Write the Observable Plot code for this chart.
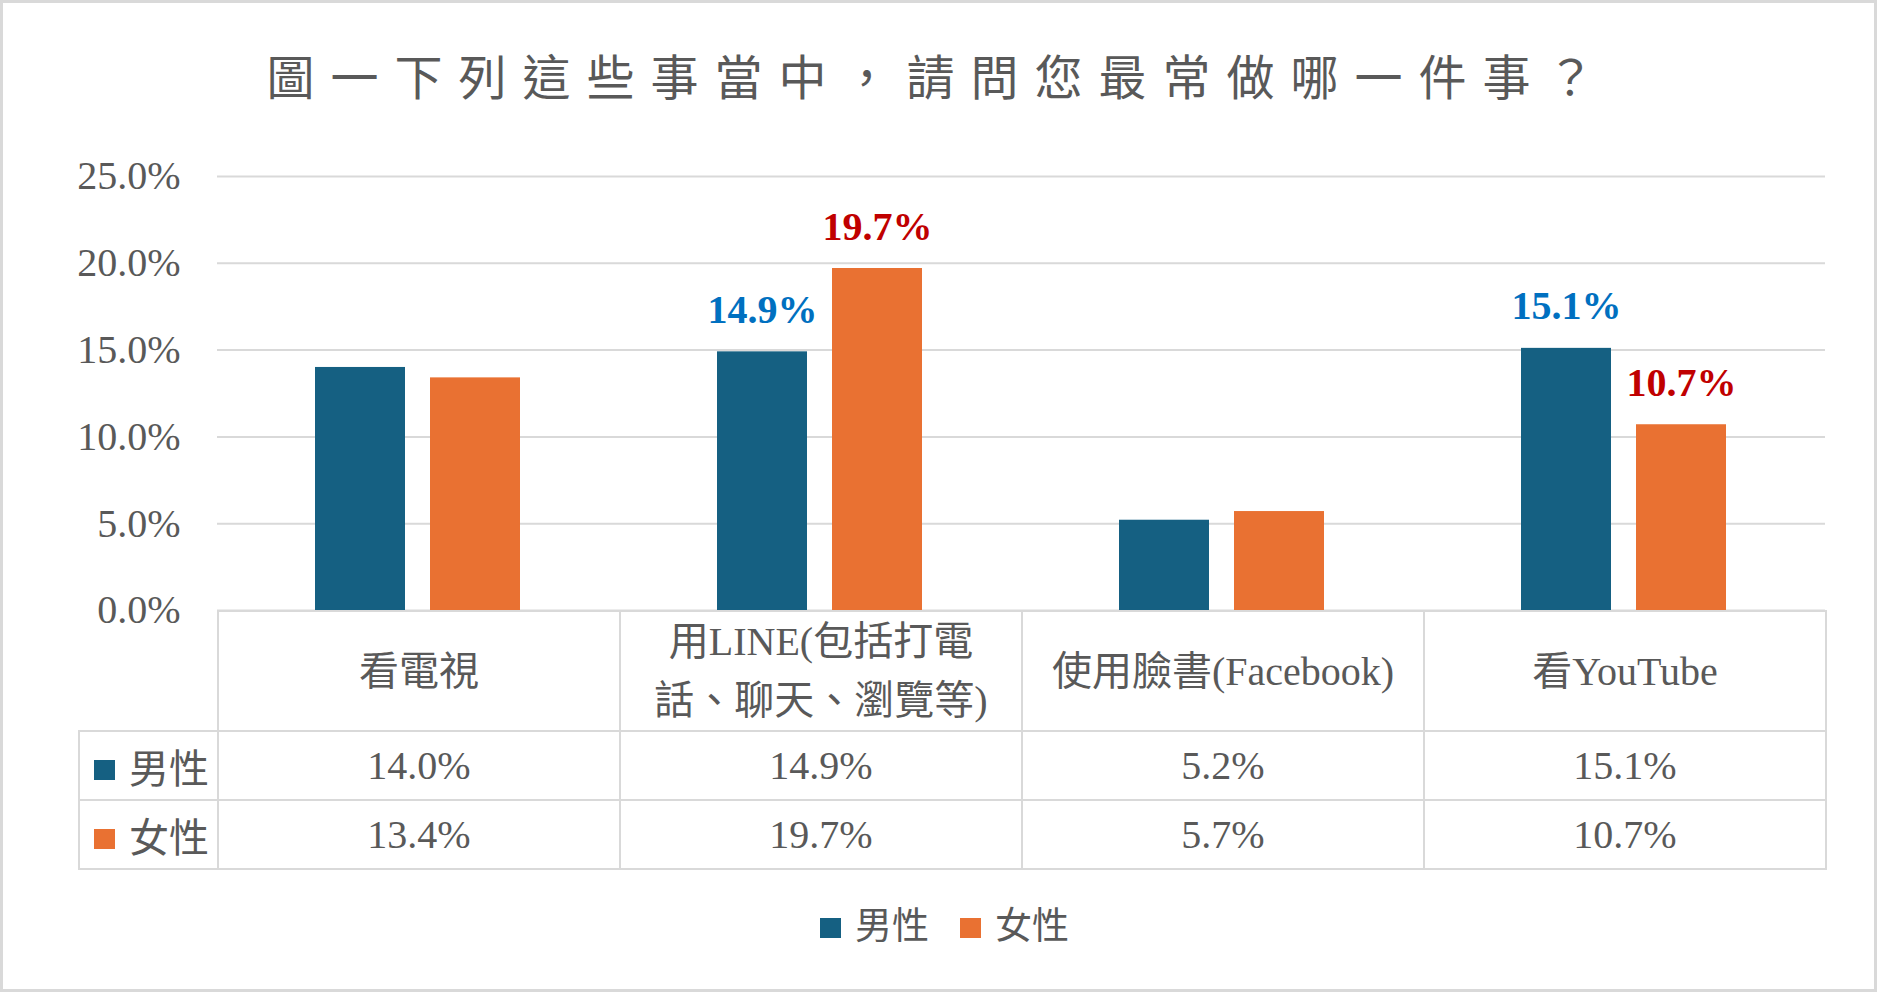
<!DOCTYPE html>
<html>
<head>
<meta charset="utf-8">
<script src="https://cdn.jsdelivr.net/npm/d3@7"></script>
<script src="https://cdn.jsdelivr.net/npm/@observablehq/plot@0.6"></script>
<style>
  body { margin: 0; background: #fff; }
  #chart { position: relative; width: 1877px; height: 992px; background: #fff; overflow: hidden;
           font-family: "Liberation Serif", "Noto Sans CJK TC", serif; color: #595959; }
  #chart > svg { position: absolute; left: 0; top: 0; }
  #frame { position: absolute; left: 0; top: 0; width: 1877px; height: 992px; box-sizing: border-box;
           border: 3px solid #d9d9d9; pointer-events: none; }
  #title { position: absolute; left: 0; top: 49px; width: 1877px; text-align: center; font-size: 48px;
           line-height: 60px; letter-spacing: 16px; white-space: nowrap; }
  #table { position: absolute; left: 78px; top: 610px; border-collapse: collapse; table-layout: fixed; width: 1747px; }
  #table td { border: 2px solid #d9d9d9; text-align: center; padding: 0; color: #595959; }
  #table td.blank { border-top: none; border-left: none; }
  #table tr.head td { height: 117px; font-size: 40px; line-height: 59px; white-space: pre-line; }
  #table tr.val td { height: 67px; font-size: 40px; }
  #table td.rowlab { text-align: left; padding-left: 14px; font-size: 38px; white-space: nowrap; }
  .sw { display: inline-block; width: 21px; height: 20px; vertical-align: middle; margin-right: 14px; position: relative; top: -3px; }
  #legend { position: absolute; left: 820px; top: 905px; height: 44px; line-height: 44px; font-size: 37px; white-space: nowrap; }
  #legend .item { display: inline-block; margin-right: 31px; }
</style>
</head>
<body>
<div id="chart"></div>
<script>
// ---- data ----
const titleText = "圖一下列這些事當中，請問您最常做哪一件事？";
const categories = ["看電視", "用LINE(包括打電\n話、聊天、瀏覽等)", "使用臉書(Facebook)", "看YouTube"];
const genders = ["男性", "女性"];
const maleValues = [14.0, 14.9, 5.2, 15.1];
const femaleValues = [13.4, 19.7, 5.7, 10.7];
const labeledCategories = ["用LINE(包括打電\n話、聊天、瀏覽等)", "看YouTube"];
const yTicks = [0, 5, 10, 15, 20, 25];
const genderColors = ["#156082", "#E97132"];
const labelColors = ["#0070C0", "#C00000"];

// ---- build ----
const seriesValues = [maleValues, femaleValues];
const rows = categories.flatMap((c, i) => genders.map((g, j) => ({category: c, gender: g, value: seriesValues[j][i]})));
const fmt = v => v.toFixed(1) + "%";
const serif = "Liberation Serif";

const chart = document.getElementById("chart");

const plot = Plot.plot({
  width: 1877,
  height: 992,
  marginTop: 176,
  marginBottom: 382,
  marginLeft: 217,
  marginRight: 52,
  fx: {domain: categories, padding: 0, axis: null},
  x: {domain: genders, paddingInner: 0.217, paddingOuter: 0.856, axis: null},
  y: {domain: [0, 25]},
  color: {domain: genders, range: genderColors},
  marks: [
    Plot.gridY(yTicks, {stroke: "#d9d9d9", strokeOpacity: 1, strokeWidth: 2}),
    Plot.axisY(yTicks, {tickSize: 0, tickPadding: 37, tickFormat: fmt, fontSize: 40, fontFamily: serif, fill: "#595959", label: null}),
    Plot.barY(rows, {fx: "category", x: "gender", y: "value", fill: "gender"}),
    ...genders.map((g, j) => Plot.text(
      rows.filter(d => d.gender === g && labeledCategories.includes(d.category)),
      {fx: "category", x: "gender", y: "value", text: d => fmt(d.value), dy: -29, lineAnchor: "bottom",
       fill: labelColors[j], fontWeight: "bold", fontSize: 40, fontFamily: serif}
    ))
  ]
});
chart.appendChild(plot);

// title
const title = document.createElement("div");
title.id = "title";
title.textContent = titleText;
chart.appendChild(title);

// data table
const table = document.createElement("table");
table.id = "table";
const colgroup = document.createElement("colgroup");
[139, ...categories.map(() => 402)].forEach(w => {
  const col = document.createElement("col"); col.style.width = w + "px"; colgroup.appendChild(col);
});
table.appendChild(colgroup);
const head = document.createElement("tr");
head.className = "head";
const blank = document.createElement("td"); blank.className = "blank"; head.appendChild(blank);
categories.forEach(c => { const td = document.createElement("td"); td.textContent = c; head.appendChild(td); });
table.appendChild(head);
genders.forEach((g, j) => {
  const tr = document.createElement("tr");
  tr.className = "val";
  const lab = document.createElement("td");
  lab.className = "rowlab";
  const sw = document.createElement("span"); sw.className = "sw"; sw.style.background = genderColors[j];
  lab.appendChild(sw);
  lab.appendChild(document.createTextNode(g));
  tr.appendChild(lab);
  seriesValues[j].forEach(v => { const td = document.createElement("td"); td.textContent = fmt(v); tr.appendChild(td); });
  table.appendChild(tr);
});
chart.appendChild(table);

// legend
const legend = document.createElement("div");
legend.id = "legend";
genders.forEach((g, j) => {
  const item = document.createElement("span");
  item.className = "item";
  const sw = document.createElement("span"); sw.className = "sw"; sw.style.background = genderColors[j];
  item.appendChild(sw);
  item.appendChild(document.createTextNode(g));
  legend.appendChild(item);
});
chart.appendChild(legend);

const frame = document.createElement("div");
frame.id = "frame";
chart.appendChild(frame);
</script>
</body>
</html>
